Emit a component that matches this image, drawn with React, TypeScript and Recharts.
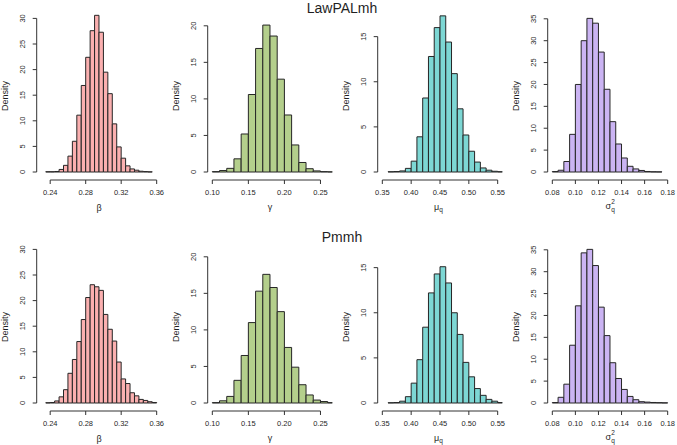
import React from 'react';
import { ComposedChart, Bar, XAxis, YAxis, ReferenceLine } from 'recharts';

// ---- data: histogram bin centres and densities ----
const betaBins = [0.2375, 0.2425, 0.2475, 0.2525, 0.2575, 0.2625, 0.2675, 0.2725, 0.2775, 0.2825, 0.2875, 0.2925, 0.2975, 0.3025, 0.3075, 0.3125, 0.3175, 0.3225, 0.3275, 0.3325, 0.3375, 0.3425, 0.3475, 0.3525, 0.3575];
const betaLawPALmh = [0.05, 0.05, 0.1, 0.5, 1.3, 3.1, 6.0, 11.1, 16.9, 22.4, 27.6, 30.6, 27.3, 19.5, 15.3, 9.4, 4.9, 2.7, 1.2, 0.6, 0.35, 0.15, 0.08, 0.03, 0];
const betaPmmh = [0.05, 0.1, 0.4, 1.2, 2.6, 5.8, 8.5, 12.0, 16.3, 20.6, 23.1, 22.7, 22.0, 17.3, 14.4, 12.1, 8.0, 4.7, 3.8, 2.0, 1.4, 0.7, 0.5, 0.25, 0.1];

const gammaBins = [0.105, 0.115, 0.125, 0.135, 0.145, 0.155, 0.165, 0.175, 0.185, 0.195, 0.205, 0.215, 0.225, 0.235, 0.245, 0.255, 0.265];
const gammaLawPALmh = [0.05, 0.2, 0.5, 1.8, 5.2, 10.6, 16.9, 20.1, 18.6, 12.7, 7.8, 3.7, 1.3, 0.45, 0.15, 0.05, 0.02];
const gammaPmmh = [0.05, 0.3, 0.9, 3.1, 6.5, 11.0, 15.3, 17.6, 15.8, 12.5, 7.6, 4.9, 2.5, 1.1, 0.4, 0.2, 0.05];

const muBins = [0.365, 0.375, 0.385, 0.395, 0.405, 0.415, 0.425, 0.435, 0.445, 0.455, 0.465, 0.475, 0.485, 0.495, 0.505, 0.515, 0.525, 0.535, 0.545, 0.555];
const muLawPALmh = [0.03, 0.05, 0.12, 0.4, 1.2, 3.9, 8.2, 12.8, 16.0, 17.3, 14.4, 10.9, 7.0, 4.1, 2.3, 1.1, 0.45, 0.2, 0.08, 0.03];
const muPmmh = [0.03, 0.05, 0.2, 0.7, 2.2, 4.8, 8.4, 12.2, 14.3, 15.1, 13.3, 10.0, 7.6, 4.5, 2.9, 1.6, 0.85, 0.4, 0.2, 0.05];

const sigmaBins = [0.0825, 0.0875, 0.0925, 0.0975, 0.1025, 0.1075, 0.1125, 0.1175, 0.1225, 0.1275, 0.1325, 0.1375, 0.1425, 0.1475, 0.1525, 0.1575, 0.1625, 0.1675, 0.1725, 0.1775];
const sigmaLawPALmh = [0.1, 0.4, 2.4, 8.6, 20.0, 30.0, 35.1, 34.0, 27.4, 18.9, 11.5, 6.4, 3.2, 1.3, 0.7, 0.35, 0.12, 0.05, 0.03, 0];
const sigmaPmmh = [0.1, 1.3, 4.3, 13.2, 22.2, 34.3, 35.1, 31.4, 21.9, 15.4, 9.2, 5.6, 3.1, 1.5, 0.75, 0.3, 0.2, 0.12, 0.08, 0.04];

// tick labels
const betaTicks = [0.24, 0.28, 0.32, 0.36];
const gammaTicks = [0.10, 0.15, 0.20, 0.25];
const muTicks = [0.35, 0.40, 0.45, 0.50, 0.55];
const sigmaTicks = [0.08, 0.10, 0.12, 0.14, 0.16, 0.18];
const betaDensityTicks = [0, 5, 10, 15, 20, 25, 30];
const gammaDensityTicks = [0, 5, 10, 15, 20];
const muDensityTicks = [0, 5, 10, 15];
const sigmaDensityTicks = [0, 5, 10, 15, 20, 25, 30, 35];

const METHODS = ['LawPALmh', 'Pmmh'];

// ---- layout / style ----
const FONT = "'Liberation Sans', Arial, Helvetica, sans-serif";
const INK = '#1f1f1f';
const AXIS = '#333';
const EDGE = '#262626';

const PANEL_W = 170;
const ROW_H = 215;
const ROW_TOPS = [0, 230.5];
const TITLE_BASE = [13, 241.5];
const COL_LEFTS = [-1, 170, 340, 510];
const Y_AXIS_W = 37.7;
const PLOT_W = 124.6;
const PLOT_TOP = 12;
const X_AXIS_H = 35;
const PLOT_H = ROW_H - PLOT_TOP - X_AXIS_H;
const ZERO_GAP = 8; // R puts the x axis a little below density 0
const PLOT_CX = Y_AXIS_W + PLOT_W / 2;
const LABEL_Y = PLOT_TOP + PLOT_H + 31;

type Param = {
  bins: number[];
  series: number[][];
  binWidth: number;
  xlim: [number, number];
  xTicks: number[];
  yTicks: number[];
  yScale: number; // px per density unit
  fill: string;
  label: () => React.ReactNode;
};

const PARAMS: Param[] = [
  {
    bins: betaBins, series: [betaLawPALmh, betaPmmh], binWidth: 0.005,
    xlim: [0.23, 0.36], xTicks: betaTicks, yTicks: betaDensityTicks, yScale: 5.12,
    fill: '#FBB0B0',
    label: () => <text x={PLOT_CX} y={LABEL_Y} textAnchor="middle" fontSize={9} fill={INK}>β</text>,
  },
  {
    bins: gammaBins, series: [gammaLawPALmh, gammaPmmh], binWidth: 0.01,
    xlim: [0.10, 0.26], xTicks: gammaTicks, yTicks: gammaDensityTicks, yScale: 7.31,
    fill: '#B4CF8C',
    label: () => <text x={PLOT_CX} y={LABEL_Y - 1} textAnchor="middle" fontSize={9} fill={INK}>γ</text>,
  },
  {
    bins: muBins, series: [muLawPALmh, muPmmh], binWidth: 0.01,
    xlim: [0.35, 0.55], xTicks: muTicks, yTicks: muDensityTicks, yScale: 9.025,
    fill: '#7DD7D4',
    label: () => (
      <text x={PLOT_CX - 1.5} y={LABEL_Y - 1} textAnchor="middle" fontSize={9} fill={INK}>
        μ<tspan fontSize={6.5} dy={2.2}>q</tspan>
      </text>
    ),
  },
  {
    bins: sigmaBins, series: [sigmaLawPALmh, sigmaPmmh], binWidth: 0.005,
    xlim: [0.08, 0.18], xTicks: sigmaTicks, yTicks: sigmaDensityTicks, yScale: 4.377,
    fill: '#CBB4F3',
    label: () => (
      <g fill={INK}>
        <text x={PLOT_CX - 1.6} y={LABEL_Y - 2.5} textAnchor="middle" fontSize={9}>σ</text>
        <text x={PLOT_CX + 1.2} y={LABEL_Y - 7.5} fontSize={6.5}>2</text>
        <text x={PLOT_CX + 1.2} y={LABEL_Y + 0.5} fontSize={6.5}>q</text>
      </g>
    ),
  },
];

function Panel({ p, values, left, top }: { p: Param; values: number[]; left: number; top: number }) {
  const data = p.bins.map((b, i) => ({ x: b, density: values[i] }));
  const span = p.xlim[1] - p.xlim[0];
  const xDomain: [number, number] = [p.xlim[0] - 0.04 * span, p.xlim[1] + 0.04 * span];
  const pxPerX = PLOT_W / (xDomain[1] - xDomain[0]);
  const yDomain: [number, number] = [-ZERO_GAP / p.yScale, (PLOT_H - ZERO_GAP) / p.yScale];
  const lastX = p.xTicks[p.xTicks.length - 1];
  const lastY = p.yTicks[p.yTicks.length - 1];

  return (
    <div style={{ position: 'absolute', left, top }}>
      <ComposedChart
        width={PANEL_W}
        height={ROW_H}
        data={data}
        margin={{ top: PLOT_TOP, right: PANEL_W - Y_AXIS_W - PLOT_W, bottom: 0, left: 0 }}
        barCategoryGap={0}
        barGap={0}
      >
        <XAxis
          dataKey="x"
          type="number"
          domain={xDomain}
          allowDataOverflow
          ticks={p.xTicks}
          interval={0}
          height={X_AXIS_H}
          axisLine={false}
          tickSize={4}
          tickLine={{ stroke: AXIS }}
          tick={(t: any) => (
            <text x={t.x} y={PLOT_TOP + PLOT_H + 15.4} textAnchor="middle" fontSize={7.5} fill={INK}>
              {Number(t.payload.value).toFixed(2)}
            </text>
          )}
          label={() => p.label()}
        />
        <YAxis
          type="number"
          domain={yDomain}
          allowDataOverflow
          ticks={p.yTicks}
          interval={0}
          width={Y_AXIS_W}
          axisLine={false}
          tickSize={4}
          tickLine={{ stroke: AXIS }}
          tick={(t: any) => (
            <text
              transform={`translate(${Y_AXIS_W - 11.3},${t.y}) rotate(-90)`}
              textAnchor="middle"
              fontSize={7.5}
              fill={INK}
            >
              {t.payload.value}
            </text>
          )}
          label={() => (
            <text
              transform={`translate(9,${PLOT_TOP + PLOT_H / 2}) rotate(-90)`}
              textAnchor="middle"
              fontSize={9}
              fill={INK}
            >
              Density
            </text>
          )}
        />
        <Bar
          dataKey="density"
          fill={p.fill}
          stroke={EDGE}
          strokeWidth={1}
          barSize={p.binWidth * pxPerX - 0.02}
          isAnimationActive={false}
        />
        {/* R-style axis lines: only between the first and last tick */}
        <ReferenceLine
          segment={[{ x: p.xTicks[0], y: yDomain[0] }, { x: lastX, y: yDomain[0] }]}
          stroke={AXIS}
          ifOverflow="visible"
        />
        <ReferenceLine
          segment={[{ x: xDomain[0], y: 0 }, { x: xDomain[0], y: lastY }]}
          stroke={AXIS}
          ifOverflow="visible"
        />
      </ComposedChart>
    </div>
  );
}

export default function App() {
  return (
    <div
      style={{
        position: 'absolute', left: 0, top: 0, width: 677, height: 445,
        background: '#fff', fontFamily: FONT, overflow: 'hidden',
      }}
    >
      <svg width={677} height={445} style={{ position: 'absolute', left: 0, top: 0 }}>
        {METHODS.map((m, r) => (
          <text key={m} x={342} y={TITLE_BASE[r]} textAnchor="middle" fontSize={14} fill={INK}>
            {m}
          </text>
        ))}
      </svg>
      {METHODS.map((m, r) =>
        PARAMS.map((p, c) => (
          <Panel key={`${m}-${c}`} p={p} values={p.series[r]} left={COL_LEFTS[c]} top={ROW_TOPS[r]} />
        )),
      )}
    </div>
  );
}
